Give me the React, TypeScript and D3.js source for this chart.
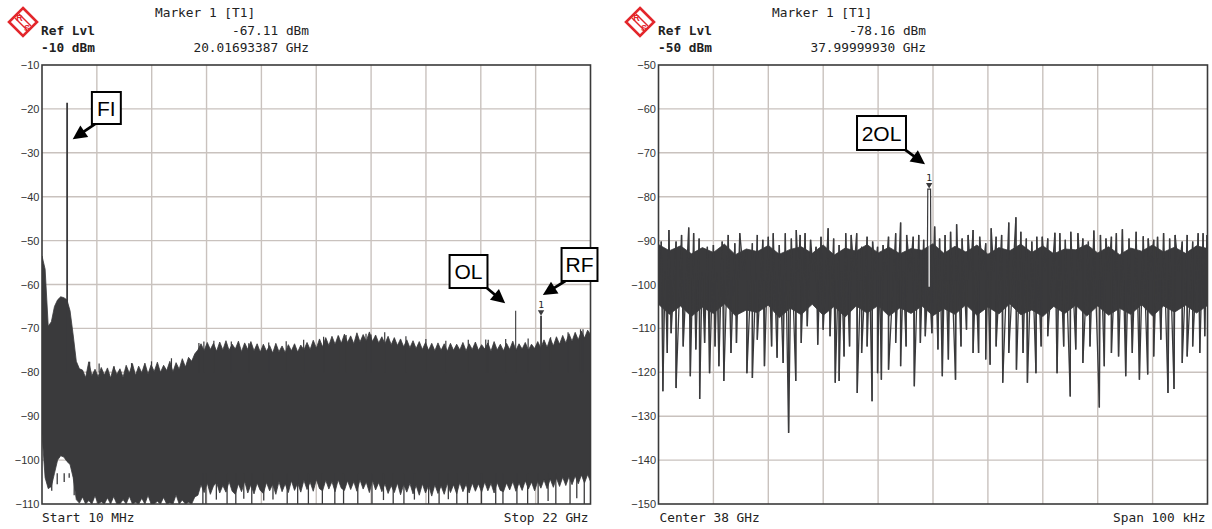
import React from "react";
import * as d3 from "d3";

const W = 1212;
const H = 529;

// ---------- Left trace: 10 MHz .. 22 GHz, Ref -10 dBm ----------
const leftStartGHz = 0.01;
const leftStepGHz = 0.125;
const leftTop = [
  -53.5, -56.5, -69.5, -68.5, -65, -63.5, -62.8, -63, -63.5, -66, -71.5, -77.5, -79.2,
  -79.5, -81.2, -77.6, -80.8, -79.3, -81.0, -78.9, -80.6, -79.0, -81.3, -78.7, -80.5, -79.2, -81.1, -78.4,
  -80.2, -78.0, -80.7, -78.6, -80.1, -77.9, -80.4, -78.3, -79.8, -77.7, -80.0, -78.4, -79.6, -77.5, -79.9,
  -77.8, -79.3, -76.9, -78.8, -76.6, -77.5, -75.8,
  -74.9, -73.5, -75.1, -73.2, -74.8,
  -73.4, -75.2, -73.1, -74.9, -72.8, -75.0, -73.6, -74.7, -72.9, -75.3, -73.3, -74.8, -73.0, -75.1, -73.5,
  -75.4, -73.6, -75.2, -73.9, -75.6, -73.4, -75.3, -74.0, -75.5, -73.7, -75.1, -73.5, -75.4, -73.8, -74.9,
  -73.2, -74.8, -72.7, -74.5, -72.4, -74.2, -72.1, -73.9, -71.8, -73.6,
  -71.6, -73.4, -71.3, -73.2, -71.7, -73.5, -71.0, -73.1, -71.4, -72.9, -70.8, -73.0, -71.5, -73.3, -71.9,
  -73.5, -71.8, -73.7, -72.1, -73.9, -72.4, -74.2, -72.6, -74.4, -72.8,
  -74.6, -73.0, -74.8, -73.2, -75.0, -73.4, -75.1, -73.3, -75.0, -73.5,
  -75.2, -73.4, -75.0, -73.6, -74.9, -73.2, -75.1, -73.5, -74.8, -73.1, -75.0, -73.7, -74.7, -73.3, -75.2,
  -73.0, -74.9, -73.6, -75.1, -73.4, -74.8, -72.9, -75.0, -73.5, -74.7, -73.2, -74.9, -73.6, -74.6, -73.0,
  -74.5, -72.6, -74.3, -72.2, -74.0, -71.9, -73.6, -71.6, -73.3, -71.2, -72.9, -70.9, -72.6, -70.6, -72.2,
  -70.4, -71.5,
];
const leftBottom = [
  -94, -104, -106.5, -106, -103, -100, -99, -99.3, -100.3, -101, -104, -109,
  -109.8, -108.4, -110, -109.2, -110, -108.1, -110, -109.5, -110, -108.6, -110, -108.3, -110, -110, -109.0,
  -110, -108.2, -110, -109.6, -110, -108.7, -110, -108.0, -110, -110, -109.4, -110, -108.5, -110, -109.7,
  -110, -107.9, -110, -109.1, -110, -109.6, -110, -108.4,
  -108.0, -105.6, -107.4, -105.2, -107.8, -105.9, -105.1, -107.5, -105.8, -107.3,
  -104.9, -107.1, -107.8, -105.4, -107.2, -104.8, -107.5, -105.6, -107.7, -105.2,
  -106.9, -107.6, -105.1, -107.0, -105.5, -107.8, -104.9, -107.2, -105.4, -107.4,
  -104.7, -106.9, -105.2, -107.3, -104.6, -106.7, -105.0, -107.1, -104.4, -106.5,
  -107.0, -104.6, -106.6, -104.9, -107.2, -104.5, -106.4, -106.9, -104.7, -106.7,
  -104.9, -107.1, -104.5, -106.6, -105.0, -107.4, -104.6, -106.8, -105.1, -107.2,
  -105.4, -107.6, -105.8, -107.4, -105.2, -107.9, -105.5, -107.3, -105.3, -107.7,
  -105.8, -108.0, -105.4, -107.5, -105.7, -108.2, -105.6, -107.6, -105.9, -107.8,
  -105.3, -107.4, -105.6, -107.7, -105.1, -107.2, -105.5, -107.5, -105.2, -107.1,
  -105.4, -107.3, -105.0, -107.0, -105.3, -107.5, -105.1, -106.9, -107.2, -105.2,
  -106.8, -104.9, -107.1, -105.2, -106.9, -104.7, -106.6, -105.0, -107.0, -104.8,
  -106.4, -104.5, -106.5, -104.3, -106.2, -104.1, -106.0, -103.9, -105.8, -103.8,
  -105.6, -103.6, -105.4, -103.4, -105.2, -103.3, -105.0,
];
const leftDipGHz = [
  0.4, 0.62, 0.9, 1.1, 1.3, 6.46, 6.58, 7.0, 7.43, 7.78, 8.1, 8.42, 8.9, 9.27, 9.84, 10.26, 10.69, 11.25,
  11.75, 12.1, 12.67, 13.24, 13.7, 14.09, 14.52, 14.94, 15.51, 15.93, 16.3, 16.64, 17.07, 17.63, 18.2,
  18.49, 19.05, 19.48, 19.9, 20.3, 20.61, 21.18, 21.45, 21.75,
];
const leftDipDbm = [
  -107, -105.5, -105, -104, -108, -110, -110, -109, -110, -110, -108.8, -110, -109.2, -109, -110, -110,
  -110, -110, -110, -110, -110, -110, -109.1, -110, -110, -109, -110, -110, -108.9, -110, -110, -110, -110,
  -110, -110, -110, -110, -109.3, -110, -110, -108.7, -110,
];
const leftBumpGHz = [
  1.92, 2.3, 2.9, 3.6, 4.4, 5.2, 6.3, 6.5, 6.9, 7.6, 8.3, 9.1, 9.8, 10.5, 11.3, 11.9, 12.2, 13.0, 13.2,
  13.75, 14.6, 15.4, 16.2, 17.1, 17.8, 17.9, 18.6, 19.5, 20.4, 21.1, 21.6, 21.7,
];
const leftBumpDbm = [
  -77.6, -78.0, -78.6, -77.9, -77.5, -76.8, -73.3, -73.0, -72.8, -73.0, -73.4, -73.2, -72.9, -72.6, -71.9,
  -71.8, -71.5, -71.2, -71.4, -70.9, -71.8, -72.4, -72.8, -72.6, -72.5, -72.6, -72.4, -72.3, -72.0, -70.9,
  -70.2, -70.2,
];
const leftPeakNames = ["FI", "OL", "RF"];
const leftPeakGHz = [1.017, 19.0, 20.0169];
const leftPeakDbm = [-18.6, -66.0, -67.11];
const leftTicks = [-10, -20, -30, -40, -50, -60, -70, -80, -90, -100, -110];

// ---------- Right trace: center 38 GHz, span 100 kHz, Ref -50 dBm ----------
const rightCoreTop = [
  -90.9, -92.3, -91.2, -93.0, -91.6, -92.7, -90.8, -93.2, -91.9, -92.5, -91.1, -93.1, -92.0, -91.4, -92.9,
  -91.0, -93.3, -91.7, -92.4, -90.9, -92.8, -91.5, -93.0, -91.8, -92.2, -90.7, -92.9, -91.3, -92.6, -91.0,
  -93.1, -91.6, -92.3, -90.8, -92.7, -91.2, -93.0, -91.9, -92.1, -90.9, -92.8, -91.4, -93.2, -91.7, -92.4,
  -91.0, -92.6, -91.5, -92.9, -91.2, -91.8,
];
const rightCoreBottom = [
  -104.5, -106.8, -104.9, -107.3, -105.2, -106.6, -104.4, -107.1, -105.8, -106.4, -104.7, -107.6, -105.4,
  -106.9, -104.5, -107.0, -105.0, -107.4, -104.9, -106.5, -104.8, -107.2, -105.3, -106.6, -104.9, -107.1,
  -105.5, -106.8, -104.6, -107.0, -105.1, -106.7, -104.4, -106.9, -105.8, -107.3, -105.0, -106.6, -104.7,
  -107.2, -104.9, -107.0, -105.4, -106.8, -104.6, -107.2, -104.9, -106.3, -104.7, -106.5, -104.8,
];
const rightUpKHz = [
  -49.5, -48.1, -46.8, -45.8, -44.5, -43.6, -42.6, -41.1, -40.0, -38.4, -37.3, -36.1, -35.2, -33.9, -32.9,
  -32.0, -31.0, -30.0, -29.1, -28.0, -26.9, -25.8, -24.9, -24.2, -23.3, -22.3, -21.3, -20.4, -19.1, -18.1,
  -17.1, -15.9, -14.9, -13.9, -13.0, -12.0, -11.0, -10.1, -9.1, -8.1, -6.8, -5.9, -4.8, -3.6, -2.6, -1.7,
  0.3, 1.2, 2.2, 3.2, 4.3, 5.3, 6.4, 7.3, 8.5, 9.6, 10.6, 11.5, 12.5, 13.8, 15.1, 16.0, 17.0, 18.0, 18.9,
  19.9, 20.9, 22.2, 23.1, 24.1, 25.1, 26.4, 27.3, 28.3, 29.3, 30.5, 31.5, 32.5, 33.4, 34.5, 35.7, 37.0,
  38.3, 39.2, 40.2, 40.9, 42.0, 43.1, 44.1, 45.4, 46.3, 47.3, 48.3, 49.2, 49.9,
];
const rightUpDbm = [
  -90.2, -87.6, -90.2, -88.7, -87.0, -88.3, -89.5, -91.4, -91.0, -90.2, -88.7, -90.6, -88.3, -92.1, -90.6,
  -88.7, -89.8, -89.1, -88.3, -91.0, -88.3, -89.5, -87.6, -88.7, -88.3, -89.8, -91.4, -89.1, -87.2, -89.5,
  -91.0, -88.3, -88.7, -88.3, -91.4, -89.1, -90.2, -91.4, -91.0, -89.1, -88.3, -85.9, -88.7, -89.1, -88.7,
  -89.8, -86.8, -89.5, -88.7, -88.0, -86.3, -89.5, -88.7, -87.6, -89.1, -90.6, -87.2, -89.1, -88.7, -85.9,
  -84.7, -88.0, -89.5, -90.2, -89.1, -89.1, -89.5, -88.2, -88.3, -89.8, -88.0, -88.3, -89.5, -90.2, -87.7,
  -88.7, -89.5, -89.1, -88.3, -87.4, -89.5, -88.0, -89.0, -89.5, -89.8, -89.1, -88.3, -89.5, -88.7, -90.2,
  -88.7, -90.2, -88.3, -88.3, -88.7,
];
const rightDownKHz = [
  -49.2, -48.4, -47.7, -46.8, -45.5, -44.2, -43.2, -42.5, -41.6, -40.7, -39.7, -39.0, -38.1, -36.8, -35.8,
  -33.9, -32.9, -32.0, -30.7, -29.4, -28.4, -27.3, -26.3, -25.0, -24.0, -22.9, -21.0, -20.0, -18.75, -17.8,
  -17.1, -16.2, -15.2, -13.8, -13.0, -12.0, -11.1, -10.1, -9.4, -8.1, -6.8, -5.9, -4.9, -3.4, -2.3, -1.4,
  -0.2, 0.9, 1.7, 2.8, 4.1, 5.1, 6.1, 7.3, 8.3, 9.6, 10.4, 11.5, 12.7, 13.8, 15.2, 16.4, 17.2, 18.75, 19.7,
  20.9, 22.6, 23.8, 25.0, 26.0, 27.3, 28.6, 30.3, 31.2, 32.5, 33.8, 35.1, 36.3, 37.6, 39.1, 40.2, 41.5,
  42.8, 43.9, 45.4, 46.3, 47.3, 48.6, 49.5,
];
const rightDownDbm = [
  -124.3, -115.6, -111.1, -123.6, -114.1, -120.9, -114.8, -126.1, -113.3, -120.2, -114.1, -118.6, -122.0,
  -115.6, -113.3, -120.2, -121.3, -112.6, -118.6, -114.1, -116.7, -117.9, -133.8, -122.0, -113.3, -109.5,
  -113.7, -110.3, -111.8, -122.4, -122.0, -116.4, -114.1, -124.7, -115.6, -114.1, -126.6, -120.2, -121.7,
  -119.4, -113.3, -118.6, -114.1, -123.2, -113.3, -111.8, -111.1, -114.8, -120.9, -117.1, -121.7, -114.1,
  -110.3, -115.6, -115.6, -117.1, -118.3, -114.1, -122.4, -115.6, -119.4, -115.6, -122.4, -120.2, -114.1,
  -111.8, -120.2, -114.1, -125.5, -114.8, -117.9, -114.1, -128.0, -118.6, -115.6, -116.4, -120.9, -115.6,
  -121.7, -120.5, -116.4, -112.6, -124.7, -123.8, -117.9, -116.4, -114.1, -115.6, -111.8,
];
const rightPeakKHz = -0.7;
const rightPeakDbm = -78.16;
const rightTicks = [-50, -60, -70, -80, -90, -100, -110, -120, -130, -140, -150];

// ---------- layout / style ----------
const TRACE = "#3a3a3c";
const GRID = "#c9c2be";
const FRAME = "#3a3a3a";
const MONO = "'DejaVu Sans Mono', 'Liberation Mono', monospace";
const SANS = "'Liberation Sans', Arial, sans-serif";
const LOGO_RED = "#e3262b";

const L = { x0: 42, x1: 590.5, y0: 65, y1: 504 };
const R = { x0: 658.5, x1: 1207.5, y0: 65, y1: 504 };

const xL = d3.scaleLinear().domain([0.01, 22]).range([L.x0, L.x1]);
const yL = d3.scaleLinear().domain([-10, -110]).range([L.y0, L.y1]);
const xR = d3.scaleLinear().domain([-50, 50]).range([R.x0, R.x1]);
const yR = d3.scaleLinear().domain([-50, -150]).range([R.y0, R.y1]);

const leftAnno = [
  { label: "FI", tip: [1.24, -26.9], tail: [2.25, -23.0], box: [2.01, -16.15, 3.17, -23.44] },
  { label: "OL", tip: [18.58, -64.28], tail: [17.75, -60.34], box: [16.35, -53.28, 17.87, -60.8] },
  { label: "RF", tip: [20.09, -62.41], tail: [20.99, -59.2], box: [20.84, -51.69, 22.28, -59.2] },
];
const rightAnno = [
  { label: "2OL", tip: [-1.46, -72.62], tail: [-5.47, -68.91], box: [-13.84, -61.62, -4.92, -69.36] },
];

function Grid({ P, ticks, y }: any) {
  const cols = d3.range(1, 10).map((k) => P.x0 + (k * (P.x1 - P.x0)) / 10);
  return (
    <g>
      {cols.map((cx, i) => (
        <line key={"v" + i} x1={cx} x2={cx} y1={P.y0} y2={P.y1} stroke={GRID} strokeWidth={1.4} />
      ))}
      {ticks.slice(1, -1).map((t: number) => (
        <line key={"h" + t} x1={P.x0} x2={P.x1} y1={y(t)} y2={y(t)} stroke={GRID} strokeWidth={1.4} />
      ))}
    </g>
  );
}

function TickLabels({ P, ticks, y }: any) {
  return (
    <g fontFamily={SANS} fontSize={11} fill="#333" textAnchor="end">
      {ticks.map((t: number) => (
        <text key={t} x={P.x0 - 2.5} y={y(t) + 4}>
          {t < 0 ? "\u2212" + Math.abs(t) : String(t)}
        </text>
      ))}
    </g>
  );
}

function Arrow({ x1, y1, x2, y2 }: any) {
  const a = Math.atan2(y2 - y1, x2 - x1);
  const len = 14;
  const hw = 7;
  const bx = x2 - len * Math.cos(a);
  const by = y2 - len * Math.sin(a);
  const px = -Math.sin(a);
  const py = Math.cos(a);
  return (
    <g>
      <line x1={x1} y1={y1} x2={bx + Math.cos(a)} y2={by + Math.sin(a)} stroke="#000" strokeWidth={2.8} />
      <polygon
        points={`${x2},${y2} ${bx + px * hw},${by + py * hw} ${bx - px * hw},${by - py * hw}`}
        fill="#000"
      />
    </g>
  );
}

function Annotation({ a, x, y }: any) {
  const bx0 = x(a.box[0]);
  const bx1 = x(a.box[2]);
  const by0 = y(a.box[1]);
  const by1 = y(a.box[3]);
  return (
    <g>
      <Arrow x1={x(a.tail[0])} y1={y(a.tail[1])} x2={x(a.tip[0])} y2={y(a.tip[1])} />
      <rect x={bx0} y={by0} width={bx1 - bx0} height={by1 - by0} fill="#fff" stroke="#000" strokeWidth={2} />
      <text
        x={(bx0 + bx1) / 2}
        y={(by0 + by1) / 2 + 7.5}
        textAnchor="middle"
        fontFamily={SANS}
        fontSize={21}
        fill="#000"
      >
        {a.label}
      </text>
    </g>
  );
}

function Marker({ x, y }: any) {
  return (
    <g>
      <polygon points={`${x},${y} ${x - 3.2},${y - 5.5} ${x + 3.2},${y - 5.5}`} fill={TRACE} />
      <text x={x} y={y - 8} textAnchor="middle" fontFamily={MONO} fontSize={9.5} fill="#222">
        1
      </text>
    </g>
  );
}

function Logo({ cx, cy }: any) {
  const s = 14;
  return (
    <g>
      <polygon
        points={`${cx},${cy - s} ${cx + s},${cy} ${cx},${cy + s} ${cx - s},${cy}`}
        fill="#fff"
        stroke={LOGO_RED}
        strokeWidth={2.6}
      />
      <line x1={cx - 8} y1={cy - 4} x2={cx + 4} y2={cy + 8} stroke={LOGO_RED} strokeWidth={1.4} />
      <line x1={cx - 4} y1={cy - 8} x2={cx + 8} y2={cy + 4} stroke={LOGO_RED} strokeWidth={1.4} />
      <text x={cx - 3.5} y={cy - 1.5} textAnchor="middle" fontFamily={SANS} fontWeight="bold" fontSize={9} fill={LOGO_RED}>
        R
      </text>
      <text x={cx + 4} y={cy + 9} textAnchor="middle" fontFamily={SANS} fontWeight="bold" fontSize={9} fill={LOGO_RED}>
        S
      </text>
    </g>
  );
}

function Header({ ox, refLvl, mkLvl, mkFreq }: any) {
  return (
    <g fontFamily={MONO} fontSize={12.8} fill="#222">
      <Logo cx={ox - 19} cy={22} />
      <text x={ox + 113} y={17}>Marker 1 [T1]</text>
      <text x={ox - 1} y={34.5} fontWeight="bold">Ref Lvl</text>
      <text x={ox - 1} y={51.5} fontWeight="bold">{refLvl}</text>
      <text x={ox + 267} y={34.5} textAnchor="end">{mkLvl}</text>
      <text x={ox + 267} y={51.5} textAnchor="end">{mkFreq}</text>
    </g>
  );
}

export default function App() {
  const leftFreq = leftTop.map((_, i) => leftStartGHz + i * leftStepGHz);
  const leftArea = d3
    .area<number>()
    .x((_, i) => xL(leftFreq[i]))
    .y0((_, i) => yL(leftBottom[i] ?? -110))
    .y1((d) => yL(d))(leftTop) as string;

  const rightCoreKHz = rightCoreTop.map((_, i) => -50 + i * 2);
  const rightArea = d3
    .area<number>()
    .x((_, i) => xR(rightCoreKHz[i]))
    .y0((_, i) => yR(rightCoreBottom[i]))
    .y1((d) => yR(d))(rightCoreTop) as string;

  // the sweep: up- and down-excursions joined in frequency order;
  // two excursions of the same kind are joined through the noise core
  const tagged: [number, number, number][] = [
    ...rightUpKHz.map((f, i) => [f, rightUpDbm[i], 1] as [number, number, number]),
    ...rightDownKHz.map((f, i) => [f, rightDownDbm[i], -1] as [number, number, number]),
  ].sort((a, b) => a[0] - b[0]);
  const rightPts: [number, number][] = [];
  tagged.forEach((p, i) => {
    if (i > 0 && tagged[i - 1][2] === p[2]) {
      rightPts.push([(tagged[i - 1][0] + p[0]) / 2, -97]);
    }
    rightPts.push([p[0], p[1]]);
  });
  const lineR = d3.line<[number, number]>().x((d) => xR(d[0])).y((d) => yR(d[1]));
  const rightSweep = lineR(rightPts) as string;

  const carrier = lineR([
    [rightPeakKHz - 0.35, -100],
    [rightPeakKHz - 0.25, rightPeakDbm - 0.1],
    [rightPeakKHz + 0.25, rightPeakDbm - 0.1],
    [rightPeakKHz + 0.35, -100],
  ]) as string;

  return (
    <svg
      width={W}
      height={H}
      viewBox={`0 0 ${W} ${H}`}
      style={{ position: "absolute", left: 0, top: 0, background: "#fff" }}
    >
      <defs>
        <clipPath id="clipL">
          <rect x={L.x0} y={L.y0} width={L.x1 - L.x0} height={L.y1 - L.y0} />
        </clipPath>
        <clipPath id="clipR">
          <rect x={R.x0} y={R.y0} width={R.x1 - R.x0} height={R.y1 - R.y0} />
        </clipPath>
      </defs>
      <rect x={0} y={0} width={W} height={H} fill="#fff" />

      {/* ---------- LEFT PANEL ---------- */}
      <Header ox={42} refLvl="-10 dBm" mkLvl="-67.11 dBm" mkFreq="20.01693387 GHz" />
      <Grid P={L} ticks={leftTicks} y={yL} />
      <g clipPath="url(#clipL)">
        <path d={leftArea} fill={TRACE} stroke={TRACE} strokeWidth={0.8} />
        {leftDipGHz.map((f, i) => (
          <line key={"d" + i} x1={xL(f)} x2={xL(f)} y1={yL(-103)} y2={yL(leftDipDbm[i])} stroke={TRACE} strokeWidth={1.3} />
        ))}
        {leftBumpGHz.map((f, i) => (
          <line key={"b" + i} x1={xL(f)} x2={xL(f)} y1={yL(-80)} y2={yL(leftBumpDbm[i])} stroke={TRACE} strokeWidth={1.2} />
        ))}
        {leftPeakGHz.map((f, i) => (
          <line
            key={"p" + i}
            x1={xL(f)}
            x2={xL(f)}
            y1={yL(-80)}
            y2={yL(leftPeakDbm[i])}
            stroke={TRACE}
            strokeWidth={leftPeakNames[i] === "OL" ? 1.1 : 1.8}
          />
        ))}
      </g>
      <rect x={L.x0} y={L.y0} width={L.x1 - L.x0} height={L.y1 - L.y0} fill="none" stroke={FRAME} strokeWidth={1.6} />
      <TickLabels P={L} ticks={leftTicks} y={yL} />
      <Marker x={xL(leftPeakGHz[2])} y={yL(leftPeakDbm[2])} />
      {leftAnno.map((a) => (
        <Annotation key={a.label} a={a} x={xL} y={yL} />
      ))}
      <g fontFamily={MONO} fontSize={12.8} fill="#222">
        <text x={L.x0} y={522}>Start 10 MHz</text>
        <text x={L.x1 - 2} y={522} textAnchor="end">Stop 22 GHz</text>
      </g>

      {/* ---------- RIGHT PANEL ---------- */}
      <Header ox={659} refLvl="-50 dBm" mkLvl="-78.16 dBm" mkFreq="37.99999930 GHz" />
      <Grid P={R} ticks={rightTicks} y={yR} />
      <g clipPath="url(#clipR)">
        <path d={rightArea} fill={TRACE} stroke={TRACE} strokeWidth={0.8} />
        <path d={rightSweep} fill="none" stroke={TRACE} strokeWidth={1.3} />
        {rightUpKHz.map((f, i) => (
          <line key={"u" + i} x1={xR(f)} x2={xR(f)} y1={yR(-94)} y2={yR(rightUpDbm[i])} stroke={TRACE} strokeWidth={1.4} />
        ))}
        {rightDownKHz.map((f, i) => (
          <line key={"w" + i} x1={xR(f)} x2={xR(f)} y1={yR(-99)} y2={yR(rightDownDbm[i])} stroke={TRACE} strokeWidth={1.4} />
        ))}
        <line x1={xR(rightPeakKHz)} x2={xR(rightPeakKHz)} y1={yR(rightPeakDbm - 1.5)} y2={yR(-100.5)} stroke="#fff" strokeWidth={1.2} />
        <path d={carrier} fill="none" stroke={TRACE} strokeWidth={1.2} />
      </g>
      <rect x={R.x0} y={R.y0} width={R.x1 - R.x0} height={R.y1 - R.y0} fill="none" stroke={FRAME} strokeWidth={1.6} />
      <TickLabels P={R} ticks={rightTicks} y={yR} />
      <Marker x={xR(rightPeakKHz)} y={yR(rightPeakDbm)} />
      {rightAnno.map((a) => (
        <Annotation key={a.label} a={a} x={xR} y={yR} />
      ))}
      <g fontFamily={MONO} fontSize={12.8} fill="#222">
        <text x={R.x0 + 1} y={522}>Center 38 GHz</text>
        <text x={R.x1 - 2} y={522} textAnchor="end">Span 100 kHz</text>
      </g>
    </svg>
  );
}
